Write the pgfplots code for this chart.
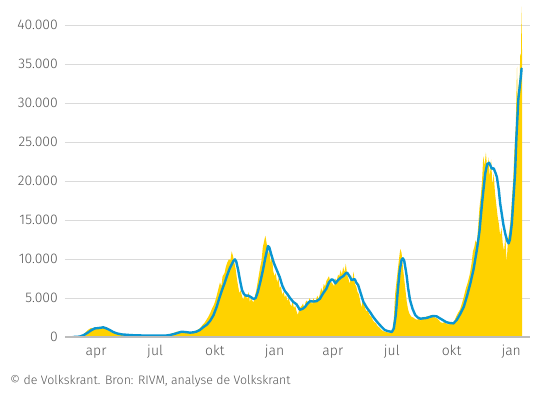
\documentclass[border=0pt]{standalone}
\usepackage{fontspec}
\setmainfont{Fira Sans Light}
\usepackage{pgfplots}
\pgfplotsset{compat=1.18}
\usepackage{pgfplotstable}
\definecolor{vkyellow}{HTML}{FFD200}
\definecolor{vkblue}{HTML}{0A96D2}
\definecolor{vkgrid}{HTML}{DADADA}
\definecolor{vkbase}{HTML}{BDBDBD}
\definecolor{vktext}{HTML}{555555}

% daily new cases (day = days since 1 Jan 2020)
\pgfplotstableread{
day val
58 0
62 10
65 40
68 150
71 300
74 550
77 800
80 1000
83 1150
86 1100
89 1250
92 1000
95 1300
98 1200
101 1350
104 1050
107 1200
110 800
113 700
116 500
119 550
122 350
125 400
128 250
131 300
135 230
140 250
145 200
150 200
160 150
170 170
180 150
190 180
196 200
200 300
204 380
208 450
212 560
216 700
219 650
222 600
226 620
230 580
234 560
238 600
242 650
246 850
249 1000
252 1200
255 1550
258 1800
261 2200
264 2600
267 3100
270 3700
273 4200
276 5000
279 6000
282 7000
284 6500
286 7800
289 8200
291 9000
293 9500
296 10000
298 9800
300 11000
302 10400
304 9600
306 8800
308 7500
310 6500
312 5600
314 6000
316 5200
318 4800
320 5600
322 5400
324 4800
326 5800
328 4500
330 5000
332 4600
334 4500
336 5300
338 6000
340 7000
342 8000
344 9000
346 9800
348 11500
350 12300
352 13000
354 12000
356 10500
358 11500
360 9500
362 10500
364 8500
366 7800
368 8200
370 7000
372 7600
374 6300
376 6500
378 5400
380 5800
382 5100
384 5400
386 4600
388 5000
390 4300
392 3900
394 4600
396 3700
398 4000
400 3300
402 2800
404 3500
406 3800
408 4000
410 4300
412 3700
414 4500
416 4700
418 4300
420 5000
422 4600
424 4200
426 5000
428 4500
430 4800
432 5300
434 4900
436 5500
438 6300
440 5800
442 6800
444 6500
446 7200
448 7500
450 7800
452 7100
454 7000
456 6800
458 6500
460 7500
462 7200
464 8000
466 7800
468 8600
470 8000
472 9000
474 8300
476 9400
478 8000
480 7500
482 6800
484 7900
486 7200
488 8400
490 6800
492 6500
494 5800
496 5500
498 4700
500 3800
502 4600
504 4200
506 3600
508 3300
510 3400
512 2900
514 2700
516 2500
518 2100
520 1900
522 1800
525 1400
528 1200
531 900
534 750
537 650
540 600
543 550
546 700
548 1000
550 2200
552 5500
554 7000
556 8500
558 10000
560 11300
562 10800
564 9000
566 7500
568 6000
570 4500
572 3500
574 3000
577 2600
580 2500
583 2300
586 2200
589 2400
592 2100
595 2600
598 2300
601 2700
604 2500
607 2800
610 2700
613 2500
616 2400
619 2200
622 1900
625 1800
628 1900
631 1700
634 1600
637 1800
640 1700
643 2000
646 2600
649 3100
652 3500
655 4300
658 5200
661 6200
664 7000
667 8000
670 9500
672 11000
674 11500
676 12400
678 12000
680 14000
682 16500
684 18000
686 20000
688 23200
690 22000
692 23700
694 21500
696 23000
698 20500
700 22800
702 19500
704 21000
706 18500
708 17000
710 15500
712 14500
714 13000
716 14000
718 12000
720 11000
722 13000
724 9500
726 12500
728 13500
730 15000
732 17500
734 20000
736 24000
738 27000
740 34700
741 30000
742 32000
744 33000
745 36400
746 35500
747 42400
748 34000
}\daily

% seven-day average
\pgfplotstableread{
day val
55 0
62 20
66 60
72 250
78 550
84 900
89 1100
95 1150
102 1240
107 1100
112 900
116 700
120 550
125 420
131 330
140 270
148 230
160 200
175 170
190 170
200 200
205 260
212 400
218 560
223 680
230 620
236 560
241 600
246 700
251 900
256 1250
262 1600
267 2100
272 2800
277 3900
281 5000
285 6000
289 6900
293 7900
297 8800
300 9300
303 9800
305 9960
307 9700
310 8600
313 7200
316 6000
319 5500
322 5300
326 5300
330 5100
334 4870
337 5000
340 5700
344 7000
348 8500
352 10200
356 11670
358 11500
361 10600
365 9500
370 8500
374 7700
378 6600
382 5900
386 5500
390 5000
395 4500
400 4200
405 3500
409 3600
413 3850
417 4300
421 4600
426 4550
431 4600
436 4900
441 5600
446 6200
450 7000
454 7400
457 7300
460 6880
464 7300
468 7600
472 7800
476 8200
478 8250
481 7900
485 7300
488 7400
490 7400
492 7000
495 6670
499 5600
503 4530
508 3800
513 3250
518 2600
524 1960
530 1400
536 900
541 750
547 650
550 1100
553 2800
556 5800
559 8500
562 9900
564 10100
566 9800
568 8800
570 7730
572 6300
575 4740
579 3600
583 2820
587 2500
591 2350
596 2400
601 2450
606 2600
611 2700
616 2650
621 2400
626 2150
631 1900
636 1800
642 1750
647 2180
652 2900
658 3900
663 5300
668 6880
673 8700
678 11150
682 13500
686 17140
689 19500
691 21000
694 22200
697 22350
699 22000
701 21600
704 21650
707 21000
709 20500
712 18800
714 17140
717 15500
719 14400
722 13200
725 12300
727 12010
729 12500
732 14580
735 18500
737 21000
739 25500
742 30500
744 32000
746 33500
747 34440
}\avg

\begin{document}
\begin{tikzpicture}
\begin{axis}[
  scale only axis, width=465bp, height=332bp,
  xmin=43, xmax=760, ymin=0, ymax=42600,
  axis line style={draw=none},
  ytick={0,5000,...,40000},
  scaled y ticks=false,
  xtick={91,182,274,366,456,547,639,731},
  xticklabels={apr,jul,okt,jan,apr,jul,okt,jan},
  major tick length=0pt,
  ymajorgrids, grid style={vkgrid, line width=0.9bp},
  tick label style={font=\fontsize{14}{16}\selectfont, text=vktext},
  yticklabel style={anchor=east, inner sep=2bp, xshift=-5bp},
  xticklabel style={anchor=north, inner sep=2bp, text height=10bp, text depth=3bp, yshift=-6bp},
  /pgf/number format/.cd, 1000 sep={.}, assume math mode=true,
]
\addplot[fill=vkyellow, draw=none] table[x=day, y=val] {\daily} \closedcycle;
\addplot[vkblue, line width=2.4bp, line join=round, line cap=round] table[x=day, y=val] {\avg};
\draw[vkbase, line width=2.6bp] (rel axis cs:0,0) -- (rel axis cs:1,0);
\coordinate (bl) at (rel axis cs:0,0);
\end{axis}
\pgfresetboundingbox
\path[use as bounding box] ([shift={(-65bp,-60bp)}]bl) rectangle ([shift={(481bp,337bp)}]bl);
\node[anchor=west, inner sep=0pt, font=\fontsize{12.4}{14}\selectfont, text=vktext] at ([shift={(-55bp,-44bp)}]bl) {© de Volkskrant. Bron: RIVM, analyse de Volkskrant};
\end{tikzpicture}
\end{document}
